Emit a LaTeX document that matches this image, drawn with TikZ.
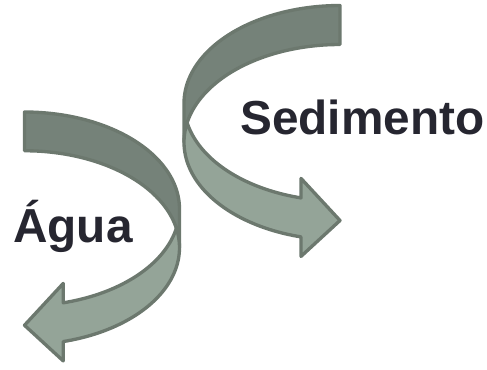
\documentclass[tikz,border=0pt]{standalone}
\usepackage{fontspec}
\setmainfont{Liberation Sans}
\definecolor{strokecol}{RGB}{108,120,110}
\definecolor{darkfill}{RGB}{117,130,121}
\definecolor{lightfill}{RGB}{148,164,152}
\definecolor{textcol}{RGB}{38,38,48}
\tikzset{
  darkpart/.style={fill=darkfill,draw=strokecol,line width=2.5pt,line join=round},
  lightpart/.style={fill=lightfill,draw=strokecol,line width=2.5pt,line join=round},
  lbl/.style={inner sep=0pt,text=textcol,font=\fontsize{35.8pt}{42pt}\selectfont\bfseries}
}
\newcommand\myCurvedArrow[2]{%
 \pgfmathsetmacro\W{#1}\pgfmathsetmacro\H{#2}%
 \pgfmathsetmacro\SS{min(\W,\H)}%
 \pgfmathsetmacro\TH{\SS/4}%
 \pgfmathsetmacro\AW{\SS/2}%
 \pgfmathsetmacro\AH{\SS/4}%
 \pgfmathsetmacro\HR{\H/2-(\TH+\AW)/4}%
 \pgfmathsetmacro\YU{\HR}%
 \pgfmathsetmacro\YL{\HR+\TH}%
 \pgfmathsetmacro\PHI{asin(\TH/(2*\HR))}%
 \pgfmathsetmacro\ALP{acos(\AH/\W)}%
 \pgfmathsetmacro\YF{\YU+\HR*sin(\ALP)}%
 \pgfmathsetmacro\YS{\YL+\HR*sin(\ALP)}%
 \pgfmathsetmacro\DH{(\AW-\TH)/2}%
 \pgfmathsetmacro\YSIX{\H-\AW/2}%
 \filldraw[darkpart] plot[domain=-90:0,samples=60] ({\W*cos(\x)},{\YU+\HR*sin(\x)})
   -- (\W,\YL) -- plot[domain=0:-90,samples=60] ({\W*cos(\x)},{\YL+\HR*sin(\x)}) -- cycle;
 \filldraw[lightpart] plot[domain=\PHI:\ALP,samples=60] ({\W*cos(\x)},{\YU+\HR*sin(\x)})
   -- (\AH,\YF-\DH) -- (0,\YSIX) -- (\AH,\YS+\DH) -- (\AH,\YS)
   -- plot[domain=\ALP:-\PHI,samples=60] ({\W*cos(\x)},{\YL+\HR*sin(\x)}) -- cycle;
}
\begin{document}
\begin{tikzpicture}[x=0.75pt,y=-0.75pt]
\useasboundingbox (0,0) rectangle (487,369);
\begin{scope}[shift={(24.5,112)}]
  \myCurvedArrow{155}{252}
\end{scope}
\begin{scope}[shift={(340,5.5)},xscale=-1]
  \myCurvedArrow{156}{254}
\end{scope}
\node[lbl,anchor=base west] (sed) at (240,134) {Sedimento};
\node[lbl,anchor=base west] (agua) at (13,242) {Água};
\end{tikzpicture}
\end{document}
